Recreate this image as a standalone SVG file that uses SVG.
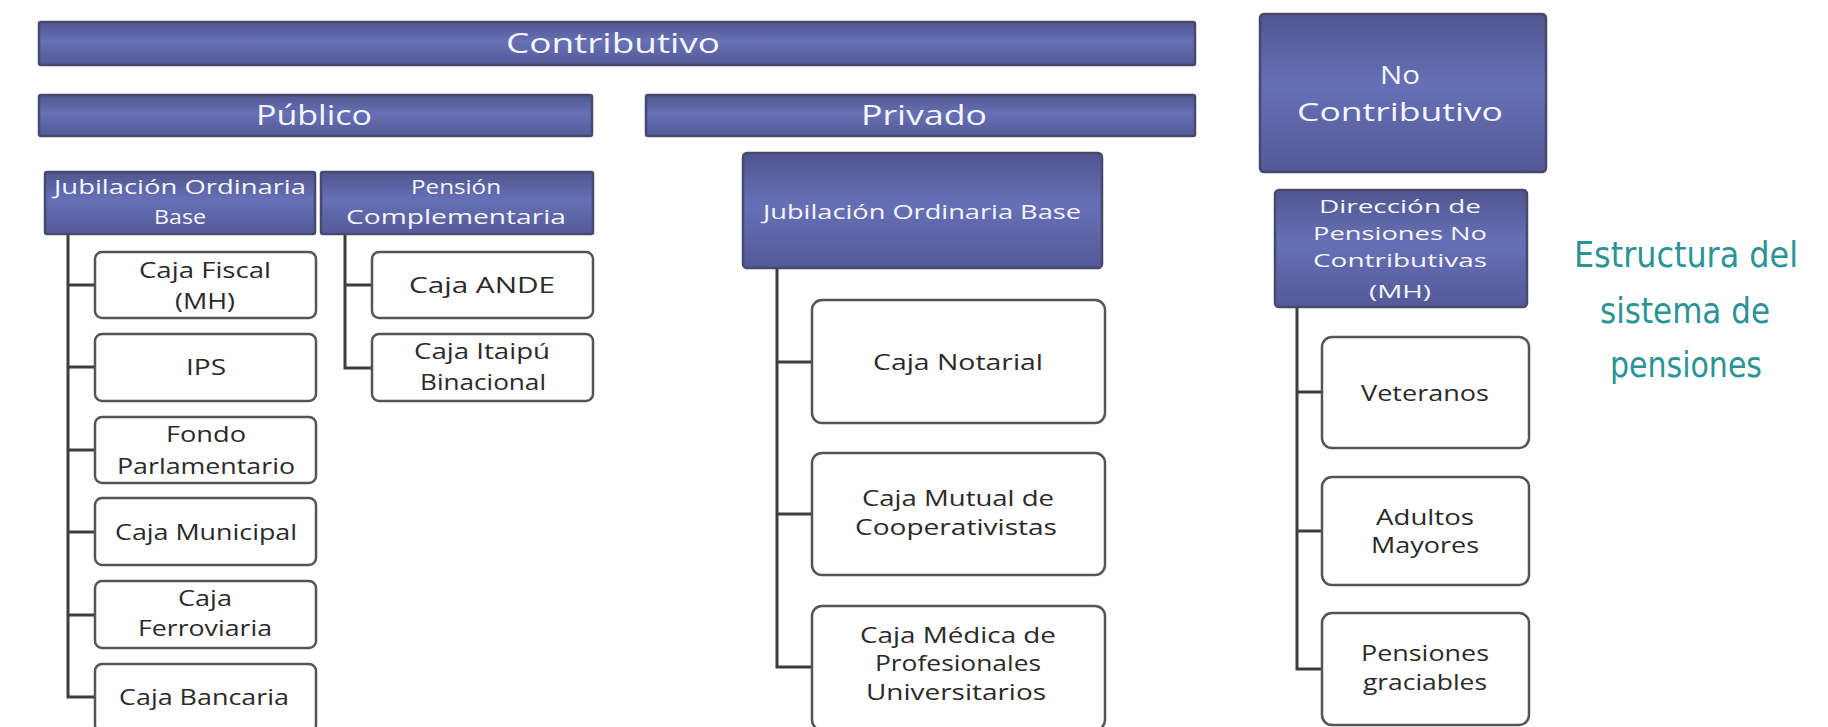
<svg xmlns="http://www.w3.org/2000/svg" width="1828" height="727" viewBox="0 0 1828 727">
<defs>
<linearGradient id="blue" x1="0" y1="0" x2="0" y2="1">
<stop offset="0" stop-color="#50568f"/>
<stop offset="0.45" stop-color="#6670b6"/>
<stop offset="1" stop-color="#545a98"/>
</linearGradient>
<style>
.hdr{fill:url(#blue);stroke:#474a6e;stroke-width:2.5}
.box{fill:#ffffff;stroke:#555555;stroke-width:2.5}
.wt{font-family:"Open Sans","Lato",sans-serif;fill:#f4f5fb;text-anchor:middle}
.bt{font-family:"Open Sans","Lato",sans-serif;fill:#2a2a2a;text-anchor:middle;font-size:22px}
.con{fill:none;stroke:#3d3d3d;stroke-width:3}
.ttl{font-family:"DejaVu Sans Condensed","Open Sans",sans-serif;fill:#2a9396;text-anchor:middle;font-size:36px}
</style>
</defs>
<rect width="1828" height="727" fill="#ffffff"/>

<g id="connectors">
<path class="con" d="M68 234 V697 H95 M68 285 H95 M68 367 H95 M68 450 H95 M68 532 H95 M68 615 H95"/>
<path class="con" d="M345 234 V368 H372 M345 285 H372"/>
<path class="con" d="M777 268 V667 H812 M777 362 H812 M777 514 H812"/>
<path class="con" d="M1297 307 V669 H1322 M1297 392 H1322 M1297 531 H1322"/>
</g>

<g id="contributivo">
<rect class="hdr" x="39" y="22" width="1156" height="43" rx="2"/>
<text class="wt" x="613" y="53" font-size="28" textLength="214" lengthAdjust="spacingAndGlyphs">Contributivo</text>
</g>
<g id="publico">
<rect class="hdr" x="39" y="95" width="553" height="41" rx="2"/>
<text class="wt" x="314" y="125" font-size="28" textLength="116" lengthAdjust="spacingAndGlyphs">Público</text>
</g>
<g id="privado">
<rect class="hdr" x="646" y="95" width="549" height="41" rx="2"/>
<text class="wt" x="924" y="125" font-size="28" textLength="126" lengthAdjust="spacingAndGlyphs">Privado</text>
</g>
<g id="no-contributivo">
<rect class="hdr" x="1260" y="14" width="286" height="158" rx="4"/>
<text class="wt" x="1400" y="84" font-size="26" textLength="40" lengthAdjust="spacingAndGlyphs">No</text>
<text class="wt" x="1400" y="121" font-size="26" textLength="206" lengthAdjust="spacingAndGlyphs">Contributivo</text>
</g>

<g id="jub-publico">
<rect class="hdr" x="45" y="172" width="270" height="62" rx="2"/>
<text class="wt" x="180" y="194" font-size="20" textLength="252" lengthAdjust="spacingAndGlyphs">Jubilación Ordinaria</text>
<text class="wt" x="180" y="224" font-size="20" textLength="52" lengthAdjust="spacingAndGlyphs">Base</text>
</g>
<g id="pension-complementaria">
<rect class="hdr" x="321" y="172" width="272" height="62" rx="2"/>
<text class="wt" x="456" y="194" font-size="20" textLength="90" lengthAdjust="spacingAndGlyphs">Pensión</text>
<text class="wt" x="456" y="224" font-size="20" textLength="220" lengthAdjust="spacingAndGlyphs">Complementaria</text>
</g>
<g id="jub-privado">
<rect class="hdr" x="743" y="153" width="359" height="115" rx="4"/>
<text class="wt" x="922" y="219" font-size="20" textLength="318" lengthAdjust="spacingAndGlyphs">Jubilación Ordinaria Base</text>
</g>
<g id="direccion">
<rect class="hdr" x="1275" y="190" width="252" height="117" rx="4"/>
<text class="wt" x="1400" y="213" font-size="18" textLength="162" lengthAdjust="spacingAndGlyphs">Dirección de</text>
<text class="wt" x="1400" y="240" font-size="18" textLength="174" lengthAdjust="spacingAndGlyphs">Pensiones No</text>
<text class="wt" x="1400" y="267" font-size="18" textLength="174" lengthAdjust="spacingAndGlyphs">Contributivas</text>
<text class="wt" x="1400" y="298" font-size="18" textLength="62" lengthAdjust="spacingAndGlyphs">(MH)</text>
</g>

<g id="caja-fiscal">
<rect class="box" x="95" y="252" width="221" height="66" rx="7"/>
<text class="bt" x="205" y="278" textLength="132" lengthAdjust="spacingAndGlyphs">Caja Fiscal</text>
<text class="bt" x="205" y="309" textLength="60" lengthAdjust="spacingAndGlyphs">(MH)</text>
</g>
<g id="ips">
<rect class="box" x="95" y="334" width="221" height="67" rx="7"/>
<text class="bt" x="206" y="375" textLength="40" lengthAdjust="spacingAndGlyphs">IPS</text>
</g>
<g id="fondo-parlamentario">
<rect class="box" x="95" y="417" width="221" height="66" rx="7"/>
<text class="bt" x="206" y="442" textLength="80" lengthAdjust="spacingAndGlyphs">Fondo</text>
<text class="bt" x="206" y="474" textLength="178" lengthAdjust="spacingAndGlyphs">Parlamentario</text>
</g>
<g id="caja-municipal">
<rect class="box" x="95" y="498" width="221" height="67" rx="7"/>
<text class="bt" x="206" y="540" textLength="182" lengthAdjust="spacingAndGlyphs">Caja Municipal</text>
</g>
<g id="caja-ferroviaria">
<rect class="box" x="95" y="581" width="221" height="67" rx="7"/>
<text class="bt" x="205" y="606" textLength="54" lengthAdjust="spacingAndGlyphs">Caja</text>
<text class="bt" x="205" y="636" textLength="134" lengthAdjust="spacingAndGlyphs">Ferroviaria</text>
</g>
<g id="caja-bancaria">
<rect class="box" x="95" y="664" width="221" height="68" rx="7"/>
<text class="bt" x="204" y="705" textLength="170" lengthAdjust="spacingAndGlyphs">Caja Bancaria</text>
</g>

<g id="caja-ande">
<rect class="box" x="372" y="252" width="221" height="66" rx="7"/>
<text class="bt" x="482" y="293" textLength="146" lengthAdjust="spacingAndGlyphs">Caja ANDE</text>
</g>
<g id="caja-itaipu">
<rect class="box" x="372" y="334" width="221" height="67" rx="7"/>
<text class="bt" x="482" y="359" textLength="136" lengthAdjust="spacingAndGlyphs">Caja Itaipú</text>
<text class="bt" x="483" y="390" textLength="126" lengthAdjust="spacingAndGlyphs">Binacional</text>
</g>

<g id="caja-notarial">
<rect class="box" x="812" y="300" width="293" height="123" rx="10"/>
<text class="bt" x="958" y="370" textLength="170" lengthAdjust="spacingAndGlyphs">Caja Notarial</text>
</g>
<g id="caja-mutual">
<rect class="box" x="812" y="453" width="293" height="122" rx="10"/>
<text class="bt" x="958" y="506" textLength="192" lengthAdjust="spacingAndGlyphs">Caja Mutual de</text>
<text class="bt" x="956" y="535" textLength="202" lengthAdjust="spacingAndGlyphs">Cooperativistas</text>
</g>
<g id="caja-medica">
<rect class="box" x="812" y="606" width="293" height="124" rx="10"/>
<text class="bt" x="958" y="643" textLength="196" lengthAdjust="spacingAndGlyphs">Caja Médica de</text>
<text class="bt" x="958" y="671" textLength="166" lengthAdjust="spacingAndGlyphs">Profesionales</text>
<text class="bt" x="956" y="700" textLength="180" lengthAdjust="spacingAndGlyphs">Universitarios</text>
</g>

<g id="veteranos">
<rect class="box" x="1322" y="337" width="207" height="111" rx="10"/>
<text class="bt" x="1425" y="401" textLength="128" lengthAdjust="spacingAndGlyphs">Veteranos</text>
</g>
<g id="adultos-mayores">
<rect class="box" x="1322" y="477" width="207" height="108" rx="10"/>
<text class="bt" x="1425" y="525" textLength="98" lengthAdjust="spacingAndGlyphs">Adultos</text>
<text class="bt" x="1425" y="553" textLength="108" lengthAdjust="spacingAndGlyphs">Mayores</text>
</g>
<g id="pensiones-graciables">
<rect class="box" x="1322" y="613" width="207" height="112" rx="10"/>
<text class="bt" x="1425" y="661" textLength="128" lengthAdjust="spacingAndGlyphs">Pensiones</text>
<text class="bt" x="1425" y="690" textLength="124" lengthAdjust="spacingAndGlyphs">graciables</text>
</g>

<g id="titulo">
<text class="ttl" x="1686" y="267" textLength="224" lengthAdjust="spacingAndGlyphs">Estructura del</text>
<text class="ttl" x="1685" y="323" textLength="170" lengthAdjust="spacingAndGlyphs">sistema de</text>
<text class="ttl" x="1686" y="377" textLength="152" lengthAdjust="spacingAndGlyphs">pensiones</text>
</g>
</svg>
